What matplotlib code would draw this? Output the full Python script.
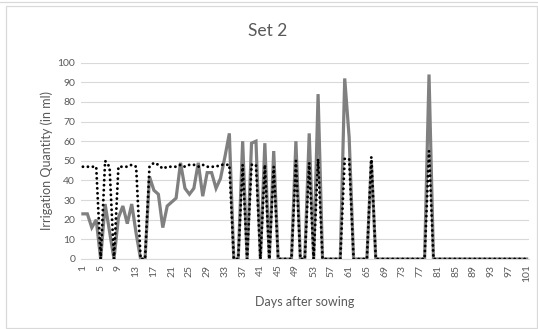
"""
Daily irrigation quantity for Set 2 (two irrigation schedules).
"""

import matplotlib.pyplot as plt
from matplotlib.patches import Rectangle

plt.rcParams["font.family"] = ["Lato", "DejaVu Sans"]

DAYS = list(range(1, 102))

# Solid grey schedule (ml per day)
SOLID_ML = (
    [23, 23, 16, 20, 0, 28, 14, 0, 21, 27, 18, 28, 13, 0, 0,
     42, 35, 33, 16, 27, 29, 31, 49, 36, 33, 36, 49, 32, 44, 44,
     36, 41, 52, 64, 0, 0, 60, 0, 59, 60, 0, 59, 0, 55,
     0, 0, 0, 0, 60, 0, 0, 64, 0, 84,
     0, 0, 0, 0, 0, 92, 62, 0, 0, 0, 0, 50]
    + [0] * 12 + [94] + [0] * 22
)

# Dotted black schedule (ml per day)
DOTTED_ML = (
    [47, 47, 47, 47, 0, 50, 47, 0, 47, 47, 47, 48, 47, 0, 0,
     47, 49, 48, 46, 47, 47, 47, 48, 47, 48, 48, 47, 48, 47, 47,
     47, 48, 48, 48, 0, 0, 48, 0, 48, 48, 0, 48, 0, 47,
     0, 0, 0, 0, 50, 0, 0, 49, 0, 51,
     0, 0, 0, 0, 0, 51, 51, 0, 0, 0, 0, 52]
    + [0] * 12 + [55] + [0] * 22
)

X_TICKS = list(range(1, 102, 4))
Y_TICKS = list(range(0, 101, 10))

TEXT_GREY = "#595959"
GRID_GREY = "#d9d9d9"


def main() -> None:
    fig = plt.figure(figsize=(5.38, 3.29), dpi=100)
    ax = fig.add_axes([0.150, 0.2128, 0.833, 0.5966])

    # chart frame
    fig.patches.append(
        Rectangle((6 / 538, 1 / 329), 531 / 538, 322 / 329, transform=fig.transFigure,
                  facecolor="none", edgecolor=GRID_GREY, linewidth=0.9)
    )
    fig.add_artist(plt.Line2D([0, 1], [1 - 1.5 / 329] * 2, color=GRID_GREY, linewidth=0.9))

    ax.plot(DAYS, SOLID_ML, color="#808080", linewidth=2.3, solid_joinstyle="miter", zorder=3)
    # round dots: near-zero dash length plus round caps
    ax.plot(DAYS, DOTTED_ML, color="black", linewidth=2.1, linestyle=(0, (0.01, 1.7)),
            dash_capstyle="round", zorder=4)

    ax.set_xlim(0.5, 101.5)
    ax.set_ylim(0, 100)
    ax.set_xticks(X_TICKS)
    ax.set_xticklabels([str(t) for t in X_TICKS], rotation=90)
    ax.set_yticks(Y_TICKS)

    ax.grid(axis="y", color=GRID_GREY, linewidth=0.8)
    ax.set_axisbelow(True)
    for side in ("top", "right", "left"):
        ax.spines[side].set_visible(False)
    ax.spines["bottom"].set_color(GRID_GREY)
    ax.spines["bottom"].set_linewidth(0.8)
    ax.tick_params(axis="both", length=0, labelsize=7.5, labelcolor=TEXT_GREY, pad=4)

    fig.text(0.498, 0.905, "Set 2", fontsize=12.5, color=TEXT_GREY, ha="center", va="center")
    ax.set_xlabel("Days after sowing", fontsize=9, color=TEXT_GREY, labelpad=10)
    ax.set_ylabel("Irrigation Quantity (in ml)", fontsize=9, color=TEXT_GREY, labelpad=3)

    fig.savefig("out.png", dpi=100)
    plt.close(fig)


if __name__ == "__main__":
    main()
